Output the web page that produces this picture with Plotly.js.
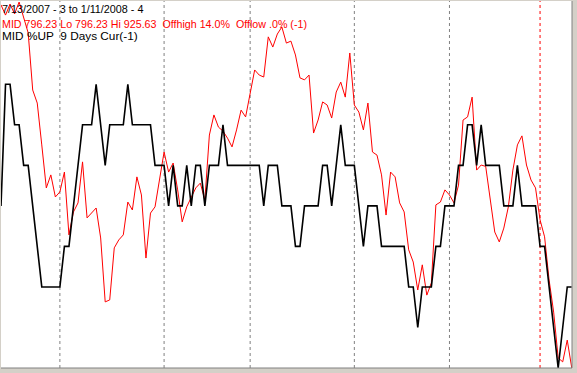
<!DOCTYPE html>
<html><head><meta charset="utf-8">
<script src="https://cdn.plot.ly/plotly-3.0.1.min.js"></script>
<style>html,body{margin:0;padding:0;background:#fff;overflow:hidden}#chart{width:577px;height:373px}</style>
</head><body><div id="chart"></div>
<script>
// Trading days shown (7/13/2007 .. 1/11/2008)
const julDays = [13,16,17,18,19,20,23,24,25,26,27,30,31];
const augDays = [1,2,3,6,7,8,9,10,13,14,15,16,17,20,21,22,23,24,27,28,29,30,31];
const sepDays = [4,5,6,7,10,11,12,13,14,17,18,19,20,21,24,25,26,27,28];
const octDays = [1,2,3,4,5,8,9,10,11,12,15,16,17,18,19,22,23,24,25,26,29,30,31];
const novDays = [1,2,5,6,7,8,9,12,13,14,15,16,19,20,21,23,26,27,28,29,30];
const decDays = [3,4,5,6,7,10,11,12,13,14,17,18,19,20,21,24,26,27,28,31];
const janDays = [2,3,4,7,8,9,10,11];

// MID closing values (red)
const midValues = [
 924.6,921.0,924.9,921.4,925.6,920.0,914.7,894.5,889.9,875.1,
 859.9,864.5,856.7,858.5,865.5,843.3,851.4,854.6,869.1,849.3,
 851.0,852.8,842.2,819.6,820.3,838.7,841.5,843.3,854.9,852.1,
 863.8,857.4,835.1,851.0,853.2,862.7,872.6,865.5,868.7,859.2,
 847.9,853.2,856.3,859.9,861.6,855.6,878.6,885.7,881.4,880.0,
 877.5,874.4,880.4,887.4,885.0,892.8,901.6,899.8,899.1,913.3,
 909.7,914.3,916.8,911.1,911.8,906.9,898.8,898.1,899.8,879.3,
 883.9,890.3,889.2,884.6,893.8,897.3,892.0,907.6,889.2,886.7,
 880.4,889.9,872.6,871.5,864.5,850.3,865.5,863.8,854.6,851.4,
 838.0,833.7,823.8,832.7,822.0,826.3,853.9,854.9,859.2,857.4,
 854.6,860.9,883.9,885.0,892.0,866.2,868.0,867.5,856.7,844.3,
 840.8,845.7,853.2,866.2,875.1,878.3,868.0,862.7,859.9,848.6,
 842.6,827.3,816.0,799.8,798.4,806.1,796.23
];

// MID %UP over 9 days: number of up days out of 9 (black)
const upDays9 = [
 4,7,7,6,6,5,5,4,3,2,
 2,2,2,2,3,3,4,5,6,6,
 6,7,6,5,6,6,6,6,7,6,
 6,6,6,6,5,5,5,4,5,4,
 4,5,4,5,5,4,5,5,5,6,
 5,5,5,5,5,5,5,5,4,5,
 5,5,4,4,4,3,3,4,4,4,
 4,5,5,4,5,6,5,5,5,4,
 3,4,4,4,3,3,3,3,3,3,
 2,2,1,2,2,2,3,3,4,4,
 4,5,5,6,6,5,6,5,5,5,
 5,4,4,4,5,4,4,4,4,3,
 3,2,1,0,1,2,2
];

const monthStarts = ["8/1/2007","9/4/2007","10/1/2007","11/1/2007","12/3/2007"];
const yearStart = "1/2/2008";

const headerLines = [
  {text:"7/13/2007 - 3 to 1/11/2008 - 4", color:"#000000", size:10.8, dy:-1},
  {text:"MID 796.23 Lo 796.23 Hi 925.63\u00a0\u00a0Offhigh 14.0%\u00a0\u00a0Offlow .0% (-1)", color:"#ff0000", size:10.7, dy:-15.5},
  {text:"MID %UP\u00a0\u00a09 Days Cur(-1)", color:"#000000", size:11.8, dy:-27}
];

const dates = [];
julDays.forEach(d=>dates.push("7/"+d+"/2007"));
augDays.forEach(d=>dates.push("8/"+d+"/2007"));
sepDays.forEach(d=>dates.push("9/"+d+"/2007"));
octDays.forEach(d=>dates.push("10/"+d+"/2007"));
novDays.forEach(d=>dates.push("11/"+d+"/2007"));
decDays.forEach(d=>dates.push("12/"+d+"/2007"));
janDays.forEach(d=>dates.push("1/"+d+"/2008"));

const traces = [
  {x:dates, y:midValues, type:'scatter', mode:'lines', line:{color:'#ff0000', width:1}, yaxis:'y', hoverinfo:'skip'},
  {x:dates, y:upDays9, type:'scatter', mode:'lines', line:{color:'#000000', width:1.6}, yaxis:'y2', hoverinfo:'skip'}
];

const shapes = monthStarts.map(d=>({type:'line', xref:'x', yref:'paper', x0:dates.indexOf(d), x1:dates.indexOf(d), y0:0, y1:1,
  line:{color:'#808080', width:1, dash:'3px,3px'}, layer:'below'}));
shapes.push({type:'line', xref:'x', yref:'paper', x0:dates.indexOf(yearStart), x1:dates.indexOf(yearStart), y0:0, y1:1,
  line:{color:'#ff0000', width:1, dash:'3px,3px'}, layer:'below'});
// window frame
shapes.push({type:'line', xref:'paper', yref:'paper', x0:1, x1:1, y0:0, y1:1, line:{color:'#808080', width:1}});
shapes.push({type:'line', xref:'paper', yref:'paper', x0:0, x1:1, y0:0, y1:0, line:{color:'#808080', width:1}});

const annotations = headerLines.map(h=>({
  xref:'paper', yref:'paper', x:0, y:1, xanchor:'left', yanchor:'top',
  xshift:0, yshift:h.dy, showarrow:false, borderpad:0,
  text:h.text, font:{family:'Liberation Sans, Arial, sans-serif', size:h.size, color:h.color}
}));

const layout = {
  width:577, height:373,
  margin:{l:1, r:5, t:1, b:5, pad:0},
  paper_bgcolor:'#d4d0c8', plot_bgcolor:'#ffffff',
  showlegend:false,
  xaxis:{type:'category', range:[0,126.05], visible:false, fixedrange:true},
  yaxis:{range:[796.23, 925.98], visible:false, fixedrange:true},
  yaxis2:{range:[0, 9.055], overlaying:'y', visible:false, fixedrange:true},
  shapes:shapes, annotations:annotations
};

Plotly.newPlot('chart', traces, layout, {staticPlot:true, displayModeBar:false});
</script>
</body></html>
